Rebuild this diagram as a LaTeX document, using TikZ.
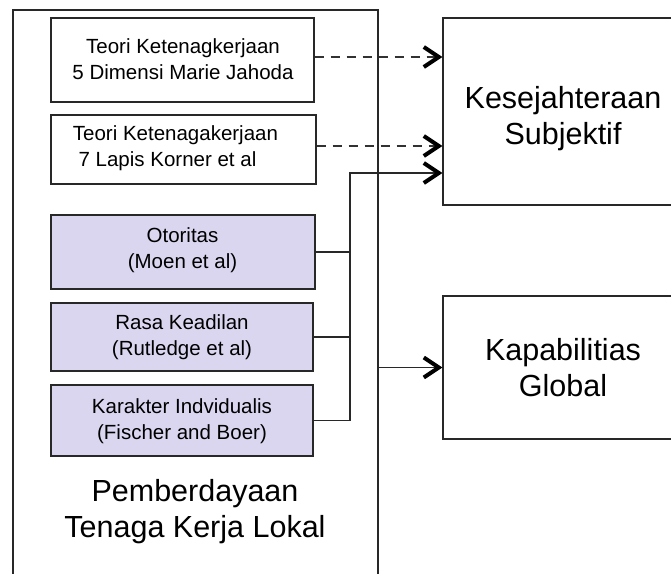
\documentclass[tikz,border=0pt]{standalone}
\usepackage{fontspec}
\setmainfont{Liberation Sans}
\usetikzlibrary{arrows.meta}
\definecolor{edge}{RGB}{40,40,40}
\definecolor{lilac}{RGB}{218,214,240}
\definecolor{dashgray}{RGB}{50,50,50}
\begin{document}
\begin{tikzpicture}[x=1pt,y=-1pt,
  box/.style={draw=edge,line width=1.2pt,inner sep=0pt,anchor=center},
  smalltxt/.style={font=\fontsize{20.5}{26.3}\selectfont,inner sep=0pt,align=center},
  bigtxt/.style={font=\fontsize{30.5}{36}\selectfont,inner sep=0pt,align=center},
  factor/.style={box,fill=lilac},
  arr/.style={-{Straight Barb[length=15pt,width=20pt,line width=4pt,color=black]}},
  wire/.style={draw=edge,line width=1.1pt},
  dashwire/.style={draw=dashgray,line width=1.1pt,dash pattern=on 9pt off 7pt}]
\clip (0,0) rectangle (671,573);
\fill[white] (0,0) rectangle (671,573);

% outer frame of the local workforce block
\node[box,minimum width=365pt,minimum height=600pt] (outer) at (195.5,310) {};

% theory boxes
\node[box,minimum width=263pt,minimum height=84pt] (t1) at (182.5,60) {};
\node[smalltxt] (t1txt) at (183,59.5) {Teori Ketenagkerjaan\\5 Dimensi Marie Jahoda};
\node[box,minimum width=265pt,minimum height=69pt] (t2) at (183.5,149.5) {};
\node[smalltxt,align=left,anchor=west] (t2txt) at (72.7,148)
  {Teori Ketenagakerjaan\\\hspace*{5.7pt}7 Lapis Korner et al};

% empowerment factors
\node[factor,minimum width=264pt,minimum height=74pt] (oto) at (183,252) {};
\node[smalltxt] (ototxt) at (182.5,250.5) {Otoritas\\(Moen et al)};
\node[factor,minimum width=262pt,minimum height=68pt] (ras) at (182,337) {};
\node[smalltxt] (rastxt) at (182,337.5) {Rasa Keadilan\\(Rutledge et al)};
\node[factor,minimum width=262pt,minimum height=71pt] (kar) at (182,420.5) {};
\node[smalltxt] (kartxt) at (182,421) {Karakter Indvidualis\\(Fischer and Boer)};

\node[bigtxt] (lokal) at (195,512) {Pemberdayaan\\Tenaga Kerja Lokal};

% outcome boxes
\node[box,minimum width=240pt,minimum height=187pt] (kes) at (563,111.5) {};
\node[bigtxt] (kestxt) at (563,119) {Kesejahteraan\\Subjektif};
\node[box,minimum width=240pt,minimum height=143pt] (kap) at (563,367.5) {};
\node[bigtxt] (kaptxt) at (563,367.5) {Kapabilitias\\Global};

% connectors
\coordinate (bus) at (350,173);
\draw[dashwire,arr] ([yshift=3pt]t1.east) -- ([yshift=3pt]t1.east -| kes.west);
\draw[dashwire,arr] ([yshift=3.5pt]t2.east) -- ([yshift=3.5pt]t2.east -| kes.west);
\draw[wire] (oto.east) -- (oto.east -| bus);
\draw[wire] (ras.east) -- (ras.east -| bus);
\draw[wire,arr] (kar.east) -| (bus) -- (bus -| kes.west);
\draw[wire,arr] (outer.east |- kap.west) -- (kap.west);
\end{tikzpicture}
\end{document}
